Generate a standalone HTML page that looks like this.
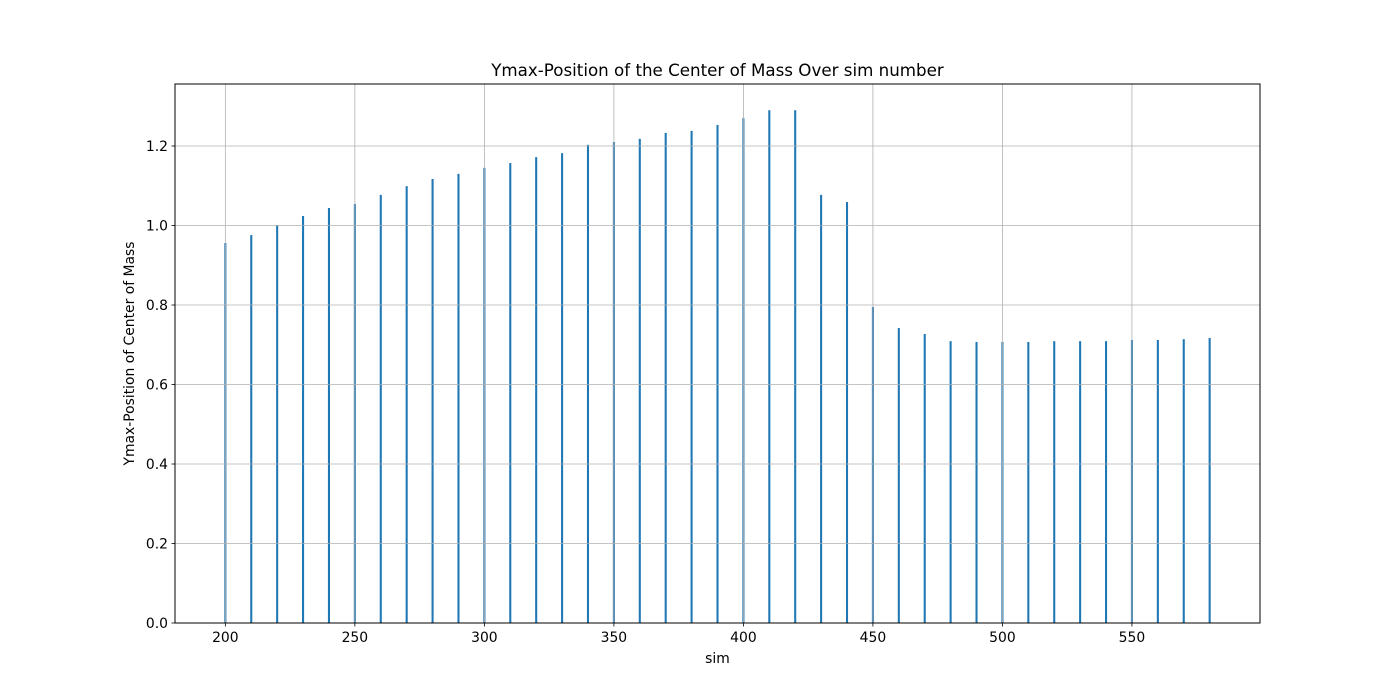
<!DOCTYPE html>
<html><head><meta charset="utf-8"><style>
html,body{margin:0;padding:0;background:#fff;}
svg{display:block;font-family:"DejaVu Sans","Liberation Sans",sans-serif;}
</style></head><body>
<svg id="chart" width="1400" height="700"></svg>
<script>
const sims=[200,210,220,230,240,250,260,270,280,290,300,310,320,330,340,350,360,370,380,390,400,410,420,430,440,450,460,470,480,490,500,510,520,530,540,550,560,570,580];
const ymaxVals=[0.956,0.976,1.001,1.024,1.044,1.054,1.077,1.099,1.117,1.13,1.145,1.157,1.172,1.182,1.203,1.21,1.218,1.233,1.238,1.253,1.27,1.29,1.29,1.077,1.059,0.795,0.742,0.727,0.709,0.707,0.707,0.707,0.709,0.709,0.709,0.712,0.712,0.714,0.717];
const xTicks=[200,250,300,350,400,450,500,550];
const yTicks=[0,0.2,0.4,0.6,0.8,1.0,1.2];
const L=175,R=1260,T=84,B=623;
const xMin=180.56,xMax=599.44,yMin=0,yMax=1.356;
const NS="http://www.w3.org/2000/svg";
const svg=document.getElementById('chart');
const X=v=>L+(v-xMin)/(xMax-xMin)*(R-L);
const Y=v=>B-(v-yMin)/(yMax-yMin)*(B-T);
function mk(tag,attrs,parent){const e=document.createElementNS(NS,tag);for(const k in attrs)e.setAttribute(k,attrs[k]);(parent||svg).appendChild(e);return e;}
const bars=mk('g',{});


sims.forEach((s,i)=>{
  const x0=X(s-0.4),x1=X(s+0.4);
  const r=mk('rect',{x:x0,y:Y(ymaxVals[i]),width:x1-x0,height:Y(0)-Y(ymaxVals[i]),fill:'#1f77b4'},bars);
  
  
});
const grid=mk('g',{stroke:'#b0b0b0','stroke-width':0.8});


xTicks.forEach(t=>{mk('line',{x1:X(t),x2:X(t),y1:T,y2:B},grid);});
yTicks.forEach(t=>{mk('line',{x1:L,x2:R,y1:Y(t),y2:Y(t)},grid);});
const frame=mk('rect',{x:L,y:T,width:R-L,height:B-T,fill:'none',stroke:'#000','stroke-width':1});


xTicks.forEach(t=>{
  mk('line',{x1:X(t),x2:X(t),y1:B,y2:B+3.5,stroke:'#000','stroke-width':0.8});
  const tx=mk('text',{x:X(t),y:B+19,'text-anchor':'middle','font-size':13.9,fill:'#000'});
  tx.textContent=t;
  
  
});
yTicks.forEach(t=>{
  mk('line',{x1:L-3.5,x2:L,y1:Y(t),y2:Y(t),stroke:'#000','stroke-width':0.8});
  const tx=mk('text',{x:L-7,y:Y(t)+5,'text-anchor':'end','font-size':13.9,fill:'#000'});
  tx.textContent=t.toFixed(1);
  
  
});
const title=mk('text',{x:(L+R)/2,y:76,'text-anchor':'middle','font-size':16.7,fill:'#000'});
title.textContent='Ymax-Position of the Center of Mass Over sim number';


const xl=mk('text',{x:(L+R)/2,y:663,'text-anchor':'middle','font-size':13.9,fill:'#000'});
xl.textContent='sim';


const yl=mk('text',{x:134,y:(T+B)/2,'text-anchor':'middle','font-size':13.9,fill:'#000',transform:'rotate(-90 134 '+((T+B)/2)+')'});
yl.textContent='Ymax-Position of Center of Mass';


</script>
</body></html>
